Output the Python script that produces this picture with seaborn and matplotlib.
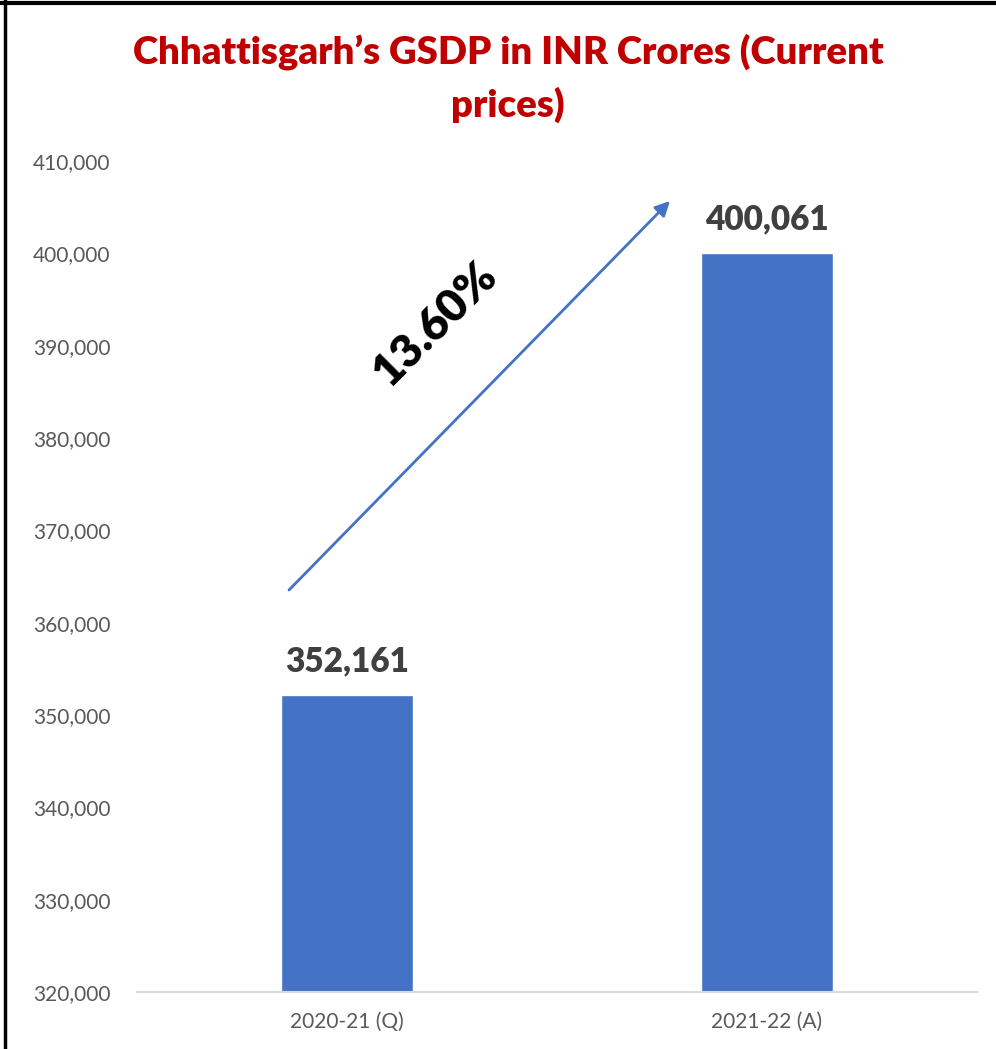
import matplotlib
matplotlib.use("Agg")
import matplotlib.pyplot as plt
import seaborn as sns
import pandas as pd
from matplotlib.lines import Line2D
from matplotlib.ticker import FuncFormatter

categories = ["2020-21 (Q)", "2021-22 (A)"]
gsdp = [352161, 400061]
growth_label = "13.60%"
title = "Chhattisgarh\u2019s GSDP in INR Crores (Current\nprices)"

sns.set_theme(style="white")
plt.rcParams['font.family'] = ['Lato', 'DejaVu Sans']

df = pd.DataFrame({"year": categories, "gsdp": gsdp})

fig = plt.figure(figsize=(9.96, 10.49), dpi=100)
ax = fig.add_axes([137/996, 57/1049, 840/996, 831/1049])

sns.barplot(data=df, x="year", y="gsdp", color="#4472C4", width=0.314,
            saturation=1, ax=ax)

ax.set_ylim(320000, 410000)
ax.set_xlim(-0.5, 1.5)
ax.set_yticks(range(320000, 410001, 10000))
ax.yaxis.set_major_formatter(FuncFormatter(lambda v, p: f"{int(v):,}"))
ax.set_xlabel("")
ax.set_ylabel("")
for s in ["top", "right", "left"]:
    ax.spines[s].set_visible(False)
ax.spines["bottom"].set_color("#D9D9D9")
ax.spines["bottom"].set_linewidth(1.5)
ax.tick_params(axis="y", labelsize=15, labelcolor="#595959", length=0, pad=19)
ax.tick_params(axis="x", labelsize=15, labelcolor="#595959", length=0, pad=14)
ax.grid(False)

for i, v in enumerate(gsdp):
    ax.text(i, v + 1900, f"{v:,}", ha="center", va="bottom", fontsize=24,
            fontweight="heavy", color="#404040")

# growth arrow
ax.annotate("", xy=(0.769, 405670), xytext=(-0.138, 363540),
            arrowprops=dict(arrowstyle="-|>", color="#4472C4", lw=2,
                            mutation_scale=22, shrinkA=0, shrinkB=0))
ax.text(0.21, 392400, growth_label, rotation=45, ha="center", va="center",
        fontsize=33, fontweight="heavy", color="black",
        rotation_mode="anchor")

fig.text(508/996, 1 - 78/1049, title, ha="center", va="center", fontsize=27.5,
         fontweight="heavy", color="#C00000", linespacing=1.53)

# frame lines (top and left)
fig.add_artist(Line2D([0, 1], [1 - 2.5/1049, 1 - 2.5/1049], color="black",
                      lw=3, transform=fig.transFigure))
fig.add_artist(Line2D([5/996, 5/996], [0, 1], color="black", lw=2.5,
                      transform=fig.transFigure))

fig.savefig("out.png", dpi=100)
